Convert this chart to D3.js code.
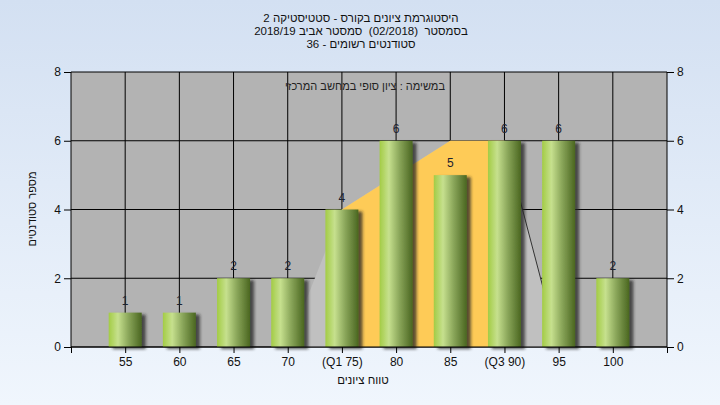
<!DOCTYPE html>
<html><head><meta charset="utf-8">
<script src="https://cdn.jsdelivr.net/npm/d3@7/dist/d3.min.js"></script>
<style>
html,body{margin:0;padding:0;overflow:hidden;}
svg{display:block;font-family:"Liberation Sans",Arial,sans-serif;}
text{white-space:pre;}
</style></head>
<body>
<script>
const categories = ["55","60","65","70","(Q1 75)","80","85","(Q3 90)","95","100"];
const counts = [1,1,2,2,4,6,5,6,6,2];
const yTicks = [0,2,4,6,8];
const areaCats = ["70","(Q1 75)","85","(Q3 90)","95"];
const areaVals = [0,4,6,6,0];
const iqrCats = ["(Q1 75)","85","(Q3 90)"];
const iqrVals = [4,6,6];
const titleLines = ["היסטוגרמת ציונים בקורס - סטטיסטיקה 2","בסמסטר  (02/2018)  סמסטר אביב 2018/19","סטודנטים רשומים - 36"];
const noteText = "במשימה : ציון סופי במחשב המרכזי";
const xLabel = "טווח ציונים";
const yLabel = "מספר סטודנטים";

const W=720,H=405;
const svg=d3.select("body").append("svg").attr("width",W).attr("height",H);
const defs=svg.append("defs");
const bg=defs.append("linearGradient").attr("id","bg").attr("x1",0).attr("y1",0).attr("x2",0).attr("y2",1);
bg.append("stop").attr("offset","0%").attr("stop-color","#d3e0f2");
bg.append("stop").attr("offset","100%").attr("stop-color","#f0f6fd");
const bar=defs.append("linearGradient").attr("id","bar").attr("x1",0).attr("y1",0).attr("x2",1).attr("y2",0);
[["0%","#a3cc45"],["28%","#c6e08e"],["60%","#8aa65a"],["100%","#4a6620"]].forEach(s=>bar.append("stop").attr("offset",s[0]).attr("stop-color",s[1]));
const f=defs.append("filter").attr("id","sh").attr("x","-20%").attr("y","-10%").attr("width","160%").attr("height","130%");
f.append("feDropShadow").attr("dx",4).attr("dy",2).attr("stdDeviation",1.8).attr("flood-color","#222").attr("flood-opacity",0.75);

svg.append("rect").attr("width",W).attr("height",H).attr("fill","url(#bg)");

const x=d3.scaleLinear().domain([0,categories.length+1]).range([71,667]);
const xi=c=>x(categories.indexOf(c)+1);
const y=d3.scaleLinear().domain([0,8]).range([347,72]);

svg.append("rect").attr("x",x(0)).attr("y",y(8)).attr("width",x(11)-x(0)).attr("height",y(0)-y(8)).attr("fill","#b3b3b3");

const g=svg.append("g");
g.selectAll(".hg").data(yTicks).join("line").attr("x1",x(0)).attr("x2",x(11)).attr("y1",d=>y(d)).attr("y2",d=>y(d)).attr("stroke","#000");
g.selectAll(".vg").data(d3.range(0,12)).join("line").attr("x1",d=>x(d)).attr("x2",d=>x(d)).attr("y1",y(0)).attr("y2",y(8)).attr("stroke","#000");

const area=d3.area().x(d=>xi(d[0])).y0(y(0)).y1(d=>y(d[1]));
svg.append("path").attr("d",area(areaCats.map((c,i)=>[c,areaVals[i]]))).attr("fill","#c0c0c0");
svg.append("path").attr("d",area(iqrCats.map((c,i)=>[c,iqrVals[i]]))).attr("fill","#fecb57");
const li=areaCats.length;
svg.append("line").attr("x1",xi(areaCats[li-2])).attr("y1",y(areaVals[li-2])).attr("x2",xi(areaCats[li-1])).attr("y2",y(areaVals[li-1])).attr("stroke","#333").attr("stroke-width",1);

const bw=33;
svg.append("g").selectAll("rect").data(counts).join("rect")
 .attr("x",(d,i)=>x(i+1)-bw/2).attr("width",bw).attr("y",d=>y(d)).attr("height",d=>y(0)-y(d))
 .attr("fill","url(#bar)").attr("filter","url(#sh)");

svg.append("line").attr("x1",x(0)).attr("x2",x(11)).attr("y1",y(0)).attr("y2",y(0)).attr("stroke","#000");

svg.append("g").selectAll("text").data(counts).join("text")
 .attr("x",(d,i)=>x(i+1)).attr("y",d=>y(d)-8).attr("text-anchor","middle").attr("font-size",12).attr("fill","#1c2230").text(d=>d);

const axL=d3.axisLeft(y).tickValues(yTicks).tickSize(7).tickPadding(3);
const axR=d3.axisRight(y).tickValues(yTicks).tickSize(7).tickPadding(3);
const axB=d3.axisBottom(x).tickValues(d3.range(0,12)).tickSize(6).tickPadding(4).tickFormat(d=>categories[d-1]||"");
[[axL,`translate(${x(0)},0)`],[axR,`translate(${x(11)},0)`],[axB,`translate(0,${y(0)})`]].forEach(([a,t])=>{
  const gg=svg.append("g").attr("transform",t).call(a);
  gg.select(".domain").remove();
  gg.selectAll("line").attr("stroke","#000");
  gg.selectAll("text").attr("font-size",12).attr("fill","#111").attr("font-family","Liberation Sans, Arial, sans-serif");
});

svg.append("g").selectAll("text").data(titleLines).join("text")
 .attr("x",361).attr("y",(d,i)=>22+i*13).attr("text-anchor","middle").attr("direction","rtl")
 .attr("font-size",11.5).attr("fill","#111").text(d=>d);
svg.append("text").attr("x",445).attr("y",90).attr("text-anchor","start").attr("direction","rtl").attr("font-size",11).attr("fill","#222").text(noteText);
svg.append("text").attr("x",363).attr("y",384).attr("text-anchor","middle").attr("direction","rtl").attr("font-size",11.5).attr("fill","#111").text(xLabel);
svg.append("text").attr("transform","translate(36,209) rotate(-90)").attr("text-anchor","middle").attr("direction","rtl").attr("font-size",11).attr("fill","#111").text(yLabel);
</script>
</body></html>
